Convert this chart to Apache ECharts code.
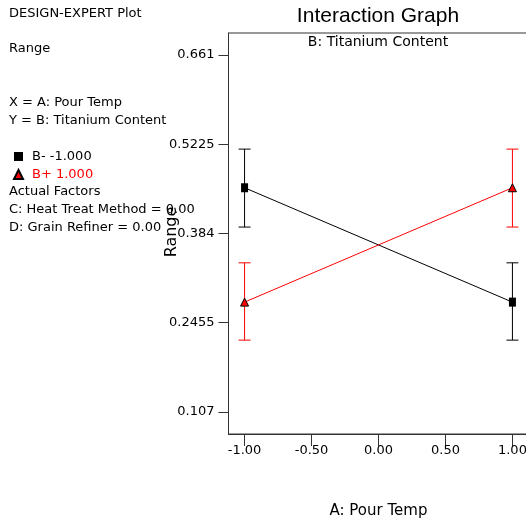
<!DOCTYPE html>
<html>
<head>
    <meta charset="utf-8">
    <title>Interaction Graph</title>
    <script src="https://cdn.jsdelivr.net/npm/echarts@6/dist/echarts.min.js"></script>
    <style>
        *{margin: 0;padding: 0;}
        body{background: #fff;}
    </style>
</head>
<body>
    <div id="main" style="width: 526px;height:525px;"></div>
    <script type="text/javascript">
        // 数据
        var xLevels = [-1, 1];
        var lowMean = [0.455, 0.2775];      // B- -1.000
        var highMean = [0.2775, 0.455];     // B+ 1.000
        var lowBarMin = [0.394, 0.2185];
        var lowBarMax = [0.515, 0.3385];
        var highBarMin = [0.2185, 0.394];
        var highBarMax = [0.3385, 0.515];
        var xTicks = [-1, -0.5, 0, 0.5, 1];
        var yTicks = [0.107, 0.2455, 0.384, 0.5225, 0.661];
        var yTickLabels = ['0.107', '0.2455', '0.384', '0.5225', '0.661'];
        var infoLines = ['DESIGN-EXPERT Plot', 'Range', 'X = A: Pour Temp', 'Y = B: Titanium Content'];
        var infoRows = [14, 49, 103, 121];
        var factorLines = ['Actual Factors', 'C: Heat Treat Method = 0.00', 'D: Grain Refiner = 0.00'];
        var factorRows = [192, 210, 228];

        var font = 'DejaVu Sans';
        var myChart = echarts.init(document.getElementById('main'));

        function pairs(ys) {
            return xLevels.map(function (x, i) { return [x, ys[i]]; });
        }
        function barData(lo, hi) {
            return xLevels.map(function (x, i) { return [x, lo[i], hi[i]]; });
        }
        function errorBar(color) {
            return function (params, api) {
                var top = api.coord([api.value(0), api.value(2)]);
                var bot = api.coord([api.value(0), api.value(1)]);
                var w = 6;
                var st = {stroke: color, lineWidth: 1};
                return {
                    type: 'group',
                    children: [
                        {type: 'line', shape: {x1: top[0], y1: top[1], x2: bot[0], y2: bot[1]}, style: st},
                        {type: 'line', shape: {x1: top[0] - w, y1: top[1], x2: top[0] + w, y2: top[1]}, style: st},
                        {type: 'line', shape: {x1: bot[0] - w, y1: bot[1], x2: bot[0] + w, y2: bot[1]}, style: st}
                    ]
                };
            };
        }

        function label(t, x, y, extra) {
            var st = {text: t, font: '13px "' + font + '"', fill: '#000', verticalAlign: 'middle'};
            for (var k in extra) st[k] = extra[k];
            return {type: 'text', x: x, y: y, style: st};
        }

        var graphics = [];
        infoLines.forEach(function (t, i) { graphics.push(label(t, 9, infoRows[i])); });
        factorLines.forEach(function (t, i) { graphics.push(label(t, 9, factorRows[i])); });
        graphics.push(label('Interaction Graph', 378, 16, {font: '21px "Liberation Sans"', align: 'center'}));
        graphics.push(label('B: Titanium Content', 378, 42, {font: '14px "' + font + '"', align: 'center'}));
        var yName = label('Range', 172, 232, {font: '16px "' + font + '"', align: 'center'});
        yName.rotation = Math.PI / 2;
        graphics.push(yName);

        option = {
            animation: false,
            grid: {
                left: 228.5, top: 33, width: 300, height: 401,
                outerBoundsMode: 'none',
                show: true, borderColor: '#333', borderWidth: 1
            },
            legend: {
                orient: 'vertical', left: 13, top: 150, padding: 0,
                itemWidth: 9, itemHeight: 9, itemGap: 5,
                textStyle: {fontFamily: font, fontSize: 13, padding: [0, 0, 0, 4]},
                data: [
                    {name: 'B- -1.000', icon: 'rect', textStyle: {color: '#000'}},
                    {name: 'B+ 1.000', icon: 'triangle', textStyle: {color: '#ff0000'}}
                ]
            },
            graphic: graphics,
            xAxis: {
                type: 'value', min: -1.12, max: 1.12,
                name: 'A: Pour Temp', nameLocation: 'middle', nameGap: 70,
                nameTextStyle: {fontFamily: font, fontSize: 15, color: '#000'},
                axisLine: {onZero: false, lineStyle: {color: '#333'}},
                axisTick: {customValues: xTicks, length: 12, lineStyle: {color: '#333'}},
                axisLabel: {customValues: xTicks, margin: 10, fontFamily: font, fontSize: 13, color: '#000',
                    formatter: function (v) { return v.toFixed(2); }},
                splitLine: {show: false}
            },
            yAxis: {
                type: 'value', min: 0.0728, max: 0.6952,
                axisLine: {show: true, onZero: false, lineStyle: {color: '#333'}},
                axisTick: {show: true, customValues: yTicks, length: 10, lineStyle: {color: '#333'}},
                axisLabel: {customValues: yTicks, margin: 14, fontFamily: font, fontSize: 13, color: '#000',
                    formatter: function (v) {
                        var i = yTicks.indexOf(v);
                        return i >= 0 ? yTickLabels[i] : '';
                    }},
                splitLine: {show: false}
            },
            series: [
                {
                    name: 'B- -1.000', type: 'line', data: pairs(lowMean),
                    symbol: 'rect', symbolSize: [7, 9],
                    itemStyle: {color: '#000'}, lineStyle: {color: '#000', width: 1}, z: 3
                },
                {
                    name: 'B+ 1.000', type: 'line', data: pairs(highMean),
                    symbol: 'triangle', symbolSize: [8, 8],
                    itemStyle: {color: '#ff0000', borderColor: '#000', borderWidth: 1},
                    lineStyle: {color: '#ff0000', width: 1}, z: 3
                },
                {
                    type: 'custom', data: barData(lowBarMin, lowBarMax),
                    renderItem: errorBar('#000'), z: 2, silent: true
                },
                {
                    type: 'custom', data: barData(highBarMin, highBarMax),
                    renderItem: errorBar('#ff0000'), z: 2, silent: true
                }
            ]
        };

        myChart.setOption(option);
    </script>
</body>
</html>
